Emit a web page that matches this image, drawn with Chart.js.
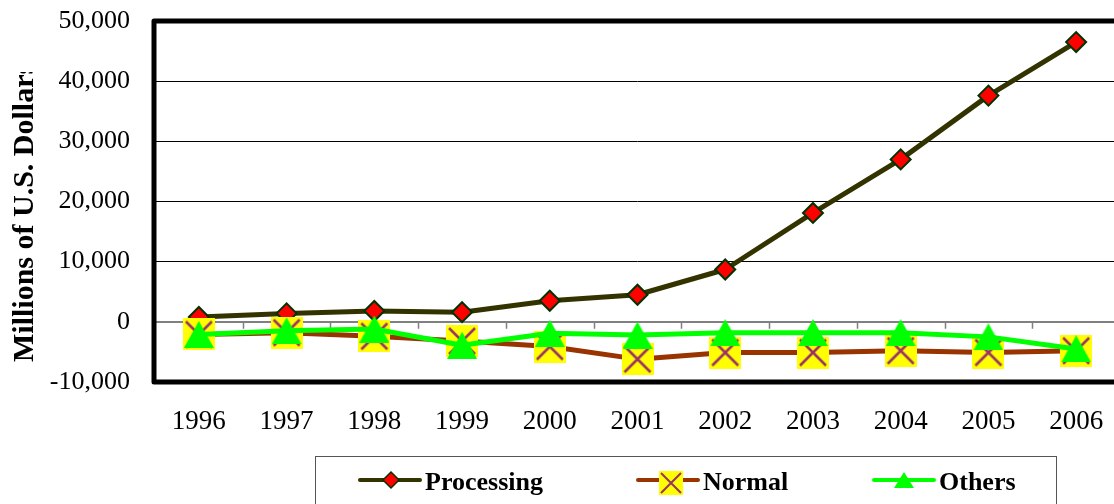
<!DOCTYPE html>
<html>
<head>
<meta charset="utf-8">
<script src="https://cdn.jsdelivr.net/npm/chart.js@4.4.1/dist/chart.umd.min.js"></script>
<style>
  html, body { margin: 0; padding: 0; background: #fff; overflow: hidden; width: 1114px; height: 504px; }
  #wrap { position: relative; width: 1122px; height: 504px; }
  canvas { display: block; }
</style>
</head>
<body>
<div id="wrap"><canvas id="chart" width="1122" height="504"></canvas></div>
<script>
// Trade balance by regime, millions of U.S. dollars
const years = ['1996', '1997', '1998', '1999', '2000', '2001', '2002', '2003', '2004', '2005', '2006'];
const processing = [800, 1400, 1800, 1600, 3500, 4500, 8700, 18100, 27000, 37600, 46500];
const normal = [-2100, -1800, -2400, -3200, -4100, -6200, -5100, -5100, -4800, -5100, -4800];
const others = [-2100, -1500, -1200, -3900, -1900, -2200, -1800, -1800, -1800, -2500, -4500];
const yTickValues = [-10000, 0, 10000, 20000, 30000, 40000, 50000];
const yTickLabels = ['-10,000', '0', '10,000', '20,000', '30,000', '40,000', '50,000'];
const seriesNames = ['Processing', 'Normal', 'Others'];
const yTitle = 'Millions of U.S. Dollars';

const SERIF = '"Liberation Serif", "Times New Roman", serif';
const C_PROC = '#333300', C_PROC_PT = '#ff0000', C_PROC_EDGE = '#003300';
const C_NORM = '#993300', C_NORM_BOX = '#ffff00', C_NORM_X = '#993366';
const C_OTH = '#00ff00';

// yellow square with a purple cross
function makeCrossBox(size, inset, lw) {
  const c = document.createElement('canvas');
  c.width = size; c.height = size;
  const g = c.getContext('2d');
  g.fillStyle = C_NORM_BOX;
  g.fillRect(0, 0, size, size);
  g.strokeStyle = C_NORM_X;
  g.lineWidth = lw;
  g.beginPath();
  g.moveTo(inset, inset); g.lineTo(size - inset, size - inset);
  g.moveTo(size - inset, inset); g.lineTo(inset, size - inset);
  g.stroke();
  return c;
}
// filled triangle, centred on its bounding box
function makeTriangle(w, h) {
  const c = document.createElement('canvas');
  c.width = w; c.height = h;
  const g = c.getContext('2d');
  g.fillStyle = C_OTH;
  g.beginPath();
  g.moveTo(w / 2, 0); g.lineTo(w, h); g.lineTo(0, h);
  g.closePath();
  g.fill();
  return c;
}

const crossBox = makeCrossBox(32, 3, 2.5);
const triangle = makeTriangle(30, 27);

// thick frame, zero axis tick marks, axis title and legend
const framePlugin = {
  id: 'frame',
  beforeDatasetsDraw(chart) {
    const { ctx, chartArea: a, scales } = chart;
    const xs = scales.x, ys = scales.y;
    const y0 = ys.getPixelForValue(0);
    ctx.save();
    ctx.strokeStyle = '#808080';
    ctx.lineWidth = 1.5;
    ctx.beginPath();
    for (let i = 1; i < years.length; i++) {
      const bx = Math.round((xs.getPixelForValue(i - 1) + xs.getPixelForValue(i)) / 2) + 0.5;
      ctx.moveTo(bx, y0);
      ctx.lineTo(bx, y0 + 7);
    }
    ctx.stroke();
    ctx.strokeStyle = '#000';
    ctx.lineWidth = 5;
    ctx.lineJoin = 'round';
    ctx.strokeRect(a.left - 1, a.top, a.right - a.left + 1, a.bottom - a.top);
    ctx.restore();
  },
  afterDraw(chart) {
    const { ctx } = chart;
    ctx.save();
    // rotated axis title, cut off at the top
    ctx.beginPath();
    ctx.rect(0, 72, 60, 320);
    ctx.clip();
    ctx.translate(33, 362);
    ctx.rotate(-Math.PI / 2);
    ctx.fillStyle = '#000';
    ctx.font = 'bold 30px ' + SERIF;
    ctx.textAlign = 'left';
    ctx.textBaseline = 'alphabetic';
    ctx.fillText(yTitle, 0, 0);
    ctx.restore();

    // legend
    ctx.save();
    ctx.strokeStyle = '#555';
    ctx.lineWidth = 1;
    ctx.strokeRect(315.5, 456.5, 741, 60);
    const ly = 480;
    const items = [
      { x: 360, color: C_PROC },
      { x: 638, color: C_NORM },
      { x: 874, color: C_OTH }
    ];
    ctx.lineCap = 'round';
    items.forEach(it => {
      ctx.strokeStyle = it.color;
      ctx.lineWidth = 4;
      ctx.beginPath();
      ctx.moveTo(it.x, ly);
      ctx.lineTo(it.x + 60, ly);
      ctx.stroke();
    });
    // diamond
    const dx = 391, r = 8;
    ctx.beginPath();
    ctx.moveTo(dx, ly - r); ctx.lineTo(dx + r, ly); ctx.lineTo(dx, ly + r); ctx.lineTo(dx - r, ly);
    ctx.closePath();
    ctx.fillStyle = C_PROC_PT; ctx.fill();
    ctx.strokeStyle = C_PROC_EDGE; ctx.lineWidth = 1.5; ctx.stroke();
    // cross box
    ctx.drawImage(makeCrossBox(24, 2, 2), 659, 471);
    // triangle
    ctx.drawImage(makeTriangle(20, 16), 894, 472);
    ctx.fillStyle = '#000';
    ctx.font = 'bold 26px ' + SERIF;
    ctx.textBaseline = 'alphabetic';
    ctx.fillText(seriesNames[0], 425, 490);
    ctx.fillText(seriesNames[1], 703, 490);
    ctx.fillText(seriesNames[2], 939, 490);
    ctx.restore();
  }
};

new Chart(document.getElementById('chart'), {
  type: 'line',
  data: {
    labels: years,
    datasets: [
      {
        label: seriesNames[0], data: processing, order: 3,
        borderColor: C_PROC, borderWidth: 5, tension: 0,
        borderJoinStyle: 'round', borderCapStyle: 'round',
        pointStyle: 'rectRot', pointRadius: 10,
        pointBackgroundColor: C_PROC_PT, pointBorderColor: C_PROC_EDGE, pointBorderWidth: 2
      },
      {
        label: seriesNames[1], data: normal, order: 2,
        borderColor: C_NORM, borderWidth: 5, tension: 0,
        borderJoinStyle: 'round', borderCapStyle: 'round',
        pointStyle: crossBox, pointRadius: 16
      },
      {
        label: seriesNames[2], data: others, order: 1,
        borderColor: C_OTH, borderWidth: 5, tension: 0,
        borderJoinStyle: 'round', borderCapStyle: 'round',
        pointStyle: triangle, pointRadius: 15
      }
    ]
  },
  options: {
    responsive: false,
    animation: false,
    devicePixelRatio: 1,
    layout: { autoPadding: false, padding: { left: 0, top: 21, right: 2, bottom: 0 } },
    plugins: { legend: { display: false }, tooltip: { enabled: false } },
    events: [],
    scales: {
      x: {
        type: 'category',
        offset: true,
        grid: { display: false, drawTicks: false },
        border: { display: false },
        ticks: {
          color: '#000', font: { family: SERIF, size: 27 },
          padding: 24, maxRotation: 0, autoSkip: false
        },
        afterFit(s) { s.height = 122; s.paddingLeft = 0; s.paddingRight = 0; }
      },
      y: {
        min: yTickValues[0],
        max: yTickValues[yTickValues.length - 1],
        afterBuildTicks(s) { s.ticks = yTickValues.map(v => ({ value: v })); },
        grid: {
          drawTicks: false,
          color: c => (c.tick && c.tick.value === 0) ? '#808080' : '#000',
          lineWidth: c => (c.tick && c.tick.value === 0) ? 2 : 1
        },
        border: { display: false },
        ticks: {
          color: '#000', font: { family: SERIF, size: 26 }, padding: 25,
          callback: v => yTickLabels[yTickValues.indexOf(v)]
        },
        afterFit(s) { s.width = 155; s.paddingTop = 0; s.paddingBottom = 0; }
      }
    }
  },
  plugins: [framePlugin]
});
</script>
</body>
</html>
